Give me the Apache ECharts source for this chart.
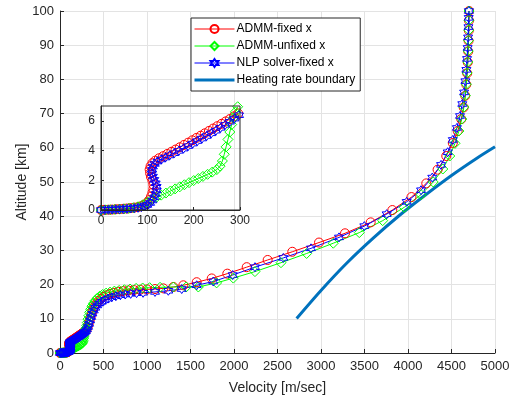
<!DOCTYPE html>
<html>
<head>
<meta charset="utf-8">
<script src="https://cdn.jsdelivr.net/npm/echarts@6/dist/echarts.min.js"></script>
<style>
html,body{margin:0;padding:0;background:#fff;}
#chart{width:511px;height:398px;}
</style>
</head>
<body>
<div id="chart"></div>
<script>
// ---- Data (velocity m/s, altitude km) ----
const seriesNames = ['ADMM-fixed x', 'ADMM-unfixed x', 'NLP solver-fixed x', 'Heating rate boundary'];

const redVel = [0,8,16,24,32,40,48,56,64,72,80,87,93,99,104,108,111,113,113,111,108,106,105,107,111,117,125,134,143,152,161,170,179,188,197,206,215,224,233,242,251,260,269,278,287,296,
  306,318,330,342,354,367,382,399,419,442,469,500,535,575,620,670,725,785,850,920,1000,1092,1188,1303,1418,1571,1744,1923,2146,2387,2670,2977,3276,3571,3820,4040,4210,4340,4440,4515,4571,4612,4640,4658,4670,4680,4687,4692,4696,4699,4701,4702];
const redAlt = [0,0.01,0.02,0.03,0.05,0.06,0.08,0.1,0.13,0.16,0.2,0.26,0.35,0.48,0.66,0.9,1.15,1.42,1.7,1.97,2.22,2.47,2.72,2.95,3.15,3.32,3.48,3.62,3.77,3.92,4.07,4.22,4.38,4.53,4.69,4.85,5.0,5.16,5.32,5.48,5.64,5.8,5.96,6.12,6.3,6.5,
  6.9,7.6,8.5,9.6,10.7,11.8,12.8,13.7,14.5,15.2,15.8,16.4,16.9,17.3,17.6,17.9,18.1,18.3,18.4,18.5,18.6,18.7,18.9,19.3,19.8,20.7,21.8,23.2,25.1,27.2,29.6,32.3,35.0,38.2,41.8,45.6,49.6,53.6,57.6,61.4,64.9,68.4,71.8,75.2,78.5,81.8,85.0,88.2,91.3,94.3,97.2,100];

const greenVel = [0,10,20,30,40,50,60,70,80,90,100,110,120,130,140,150,160,170,180,190,200,210,220,230,240,250,257,262,266,270,274,278,282,286,290,295,
  300,307,314,322,331,341,353,367,384,404,428,456,490,530,575,625,680,740,805,875,950,1030,1150,1303,1450,1590,1800,1992,2241,2540,2835,3141,3440,3709,3957,4150,4290,4400,4480,4540,4585,4618,4642,4659,4671,4680,4687,4692,4696,4699,4701,4702];
const greenAlt = [0,0.01,0.02,0.04,0.06,0.08,0.11,0.15,0.22,0.35,0.52,0.7,0.86,1.0,1.14,1.28,1.42,1.56,1.7,1.84,1.98,2.12,2.26,2.4,2.55,2.72,2.95,3.3,3.75,4.25,4.75,5.25,5.75,6.2,6.6,6.95,
  7.3,8.0,8.9,9.9,10.9,11.9,12.8,13.7,14.5,15.3,16.0,16.6,17.1,17.5,17.8,18.1,18.3,18.5,18.7,18.9,19.0,19.1,19.2,19.3,19.3,19.3,20.5,21.9,23.8,26.4,29.1,32.1,35.2,38.7,42.6,46.3,50.0,53.8,57.6,61.3,64.9,68.4,71.9,75.3,78.6,81.9,85.1,88.3,91.4,94.4,97.3,100];

const blueVel = [0,8,16,24,32,40,48,56,64,72,80,87,94,100,106,111,115,118,120,120,118,115,112,110,110,112,116,122,130,139,148,158,168,178,188,198,208,218,228,238,248,258,268,278,288,298,
  310,322,334,346,358,372,388,406,428,453,482,515,552,595,642,694,750,812,880,955,1092,1245,1399,1571,1762,1985,2241,2567,2885,3207,3498,3755,3985,4150,4279,4380,4456,4515,4562,4598,4624,4645,4660,4671,4679,4686,4691,4695,4698,4700];
const blueAlt = [0,0.01,0.02,0.03,0.04,0.05,0.06,0.08,0.1,0.12,0.15,0.19,0.25,0.34,0.47,0.64,0.85,1.08,1.32,1.56,1.8,2.03,2.25,2.47,2.7,2.92,3.1,3.26,3.4,3.53,3.67,3.82,3.98,4.13,4.3,4.47,4.64,4.81,4.98,5.16,5.34,5.53,5.73,5.94,6.15,6.38,
  6.9,7.6,8.5,9.5,10.5,11.5,12.4,13.2,13.9,14.5,15.0,15.5,15.9,16.3,16.6,16.9,17.1,17.3,17.5,17.6,17.85,18.2,18.7,19.8,20.9,22.8,25.1,27.8,30.6,33.8,37.1,40.6,44.2,47.6,51.3,55.0,58.7,62.3,65.8,69.3,72.8,76.2,79.5,82.8,86.0,89.2,92.3,95.3,98.0,100];

const boundVel = [2720,3000,3300,3600,3900,4200,4500,4800,5000];
const boundAlt = [10.1,18.3,26.4,33.6,40.2,46.2,51.9,57.1,60.3];

const mainXTicks = {min:0, max:5000, interval:500};
const mainYTicks = {min:0, max:100, interval:10};
const insetXTicks = {min:0, max:300, interval:100};
const insetYTicks = {min:0, max:7, interval:2};

// ---- Build ----
function pairs(v, a) { return v.map((x, i) => [x, a[i]]); }
function insetFilter(p) { return p.filter(d => d[0] <= insetXTicks.max && d[1] <= 7.2); }

const hexagram = 'path://M0,-10L2.887,-5L8.66,-5L5.774,0L8.66,5L2.887,5L0,10L-2.887,5L-8.66,5L-5.774,0L-8.66,-5L-2.887,-5Z';
const thickLineIcon = 'path://M0,0L0.01,0L0.01,0.01Z M0,3.5L40,3.5L40,6.5L0,6.5Z M0,10L0.01,10L0.01,9.99Z';
const FONT = '"Liberation Sans", Arial, Helvetica, sans-serif';
const TXT = '#262626';

const styles = [
  {name: seriesNames[0], data: pairs(redVel, redAlt), color: '#ff0000', symbol: 'circle', size: 9},
  {name: seriesNames[1], data: pairs(greenVel, greenAlt), color: '#00ff00', symbol: 'diamond', size: 10},
  {name: seriesNames[2], data: pairs(blueVel, blueAlt), color: '#0000ff', symbol: hexagram, size: 9}
];

const series = [];
styles.forEach(s => {
  series.push({
    name: s.name, type: 'line', xAxisIndex: 0, yAxisIndex: 0, data: s.data,
    symbol: s.symbol, symbolSize: s.size, showAllSymbol: true, clip: true,
    lineStyle: {color: s.color, width: 1},
    itemStyle: {color: 'rgba(0,0,0,0)', borderColor: s.color, borderWidth: 1},
    emphasis: {disabled: true}, animation: false, z: 3
  });
});
series.push({
  name: seriesNames[3], type: 'line', xAxisIndex: 0, yAxisIndex: 0,
  data: pairs(boundVel, boundAlt), symbol: 'none', smooth: 0.3,
  lineStyle: {color: '#0072BD', width: 3}, itemStyle: {color: '#0072BD'},
  emphasis: {disabled: true}, animation: false, z: 3
});
styles.forEach(s => {
  series.push({
    name: s.name, type: 'line', xAxisIndex: 1, yAxisIndex: 1, data: insetFilter(s.data),
    symbol: s.symbol, symbolSize: s.size, showAllSymbol: true, clip: false,
    lineStyle: {color: s.color, width: 1},
    itemStyle: {color: 'rgba(0,0,0,0)', borderColor: s.color, borderWidth: 1},
    emphasis: {disabled: true}, animation: false, z: 4
  });
});

const plain = v => String(v);
const axisLbl = (size, margin) => ({color: TXT, fontFamily: FONT, fontSize: size, margin: margin, formatter: plain});

const option = {
  animation: false,
  backgroundColor: '#ffffff',
  textStyle: {fontFamily: FONT},
  grid: [
    {left: 60, top: 11, width: 435, height: 342, containLabel: false, outerBoundsMode: 'none'},
    {left: 101, top: 106, width: 139, height: 104, show: true, borderColor: TXT, borderWidth: 1, backgroundColor: 'rgba(0,0,0,0)', z: 5, containLabel: false, outerBoundsMode: 'none'}
  ],
  legend: {
    data: [
      {name: seriesNames[0]}, {name: seriesNames[1]}, {name: seriesNames[2]},
      {name: seriesNames[3], icon: thickLineIcon, itemStyle: {color: '#0072BD', borderWidth: 0}}
    ],
    orient: 'vertical', left: 191, top: 18,
    itemWidth: 40, itemHeight: 10, itemGap: 5,
    padding: [5, 5, 5, 3],
    backgroundColor: '#ffffff', borderColor: TXT, borderWidth: 1, borderRadius: 0,
    lineStyle: {width: 1},
    textStyle: {color: '#000', fontFamily: FONT, fontSize: 12, padding: [0, 0, 0, -3]},
    selectedMode: false, z: 10
  },
  xAxis: [
    {type: 'value', gridIndex: 0, min: mainXTicks.min, max: mainXTicks.max, interval: mainXTicks.interval,
     name: 'Velocity [m/sec]', nameLocation: 'middle', nameGap: 28, nameMoveOverlap: false,
     nameTextStyle: {color: TXT, fontFamily: FONT, fontSize: 14},
     axisLine: {show: true, onZero: false, lineStyle: {color: TXT, width: 1}},
     axisTick: {show: true, inside: true, length: 4, lineStyle: {color: TXT}},
     axisLabel: axisLbl(13, 7),
     splitLine: {show: true, lineStyle: {color: '#e3e3e3', width: 1}}},
    {type: 'value', gridIndex: 1, min: insetXTicks.min, max: insetXTicks.max, interval: insetXTicks.interval,
     axisLine: {show: true, onZero: false, lineStyle: {color: TXT, width: 1}},
     axisTick: {show: true, inside: true, length: 3, lineStyle: {color: TXT}},
     axisLabel: axisLbl(12, 5),
     splitLine: {show: false}, z: 5}
  ],
  yAxis: [
    {type: 'value', gridIndex: 0, min: mainYTicks.min, max: mainYTicks.max, interval: mainYTicks.interval,
     name: 'Altitude [km]', nameLocation: 'middle', nameGap: 31, nameRotate: 90, nameMoveOverlap: false,
     nameTextStyle: {color: TXT, fontFamily: FONT, fontSize: 14},
     axisLine: {show: true, onZero: false, lineStyle: {color: TXT, width: 1}},
     axisTick: {show: true, inside: true, length: 4, lineStyle: {color: TXT}},
     axisLabel: axisLbl(13, 6),
     splitLine: {show: true, lineStyle: {color: '#e3e3e3', width: 1}}},
    {type: 'value', gridIndex: 1, min: insetYTicks.min, max: insetYTicks.max, interval: insetYTicks.interval,
     axisLine: {show: true, onZero: false, lineStyle: {color: TXT, width: 1}},
     axisTick: {show: true, inside: true, length: 3, lineStyle: {color: TXT}},
     axisLabel: Object.assign(axisLbl(12, 6), {showMaxLabel: false}),
     splitLine: {show: false}, z: 5}
  ],
  series: series
};

const chart = echarts.init(document.getElementById('chart'), null, {renderer: 'canvas'});
chart.setOption(option);
</script>
</body>
</html>
